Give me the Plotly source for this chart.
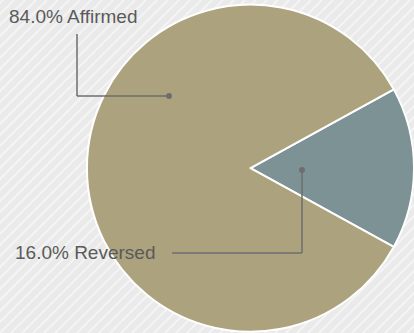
import plotly.graph_objects as go

# Outcome shares
outcomes = ["Reversed", "Affirmed"]
shares = [16.0, 84.0]
colors = ["#7D9294", "#ACA37E"]

W, H = 414, 333

fig = go.Figure(go.Pie(
    labels=outcomes,
    values=shares,
    sort=False,
    direction="clockwise",
    rotation=90 - shares[0] / 100 * 360 / 2,
    marker=dict(colors=colors, line=dict(color="white", width=2)),
    textinfo="none",
    hoverinfo="label+percent",
    domain=dict(x=[0.21, 1.0], y=[0.0, 0.99]),
    showlegend=False,
))


def px(x, y):
    """Convert pixel position to paper coordinates."""
    return x / W, 1 - y / H


shapes = []
# Diagonal background stripes
step = 11
for k in range(-H // step - 2, W // step + 2):
    x0 = k * step
    ax, ay = px(x0, H)
    bx, by = px(x0 + H, 0)
    shapes.append(dict(type="line", xref="paper", yref="paper",
                       x0=ax, y0=ay, x1=bx, y1=by, layer="below",
                       line=dict(color="#F4F4F4", width=2)))

# Leader lines for labels: label point -> elbow -> anchor dot
leaders = [
    [(77, 34), (77, 96), (169, 96)],
    [(172, 253), (302, 253), (302, 170)],
]
line_color = "#6E6E6E"
for pts in leaders:
    for (xa, ya), (xb, yb) in zip(pts[:-1], pts[1:]):
        a = px(xa, ya)
        b = px(xb, yb)
        shapes.append(dict(type="line", xref="paper", yref="paper",
                           x0=a[0], y0=a[1], x1=b[0], y1=b[1],
                           line=dict(color=line_color, width=1.5)))
    cx, cy = pts[-1]
    r = 3
    p0 = px(cx - r, cy + r)
    p1 = px(cx + r, cy - r)
    shapes.append(dict(type="circle", xref="paper", yref="paper",
                       x0=p0[0], y0=p0[1], x1=p1[0], y1=p1[1],
                       fillcolor=line_color, line=dict(width=0)))

label_pos = {"Affirmed": (7, 17), "Reversed": (13, 252)}
annotations = []
for name, val in zip(outcomes, shares):
    lx, ly = px(*label_pos[name])
    annotations.append(dict(
        text=f"{val:.1f}% {name}", xref="paper", yref="paper",
        x=lx, y=ly, xanchor="left", yanchor="middle", showarrow=False,
        font=dict(family="Liberation Sans, Arial, sans-serif", size=19, color="#5A5A5A"),
    ))

fig.update_layout(
    width=W, height=H,
    margin=dict(l=0, r=0, t=0, b=0),
    paper_bgcolor="#EAEAEA",
    plot_bgcolor="#EAEAEA",
    shapes=shapes,
    annotations=annotations,
)

fig.write_html("out.html")
